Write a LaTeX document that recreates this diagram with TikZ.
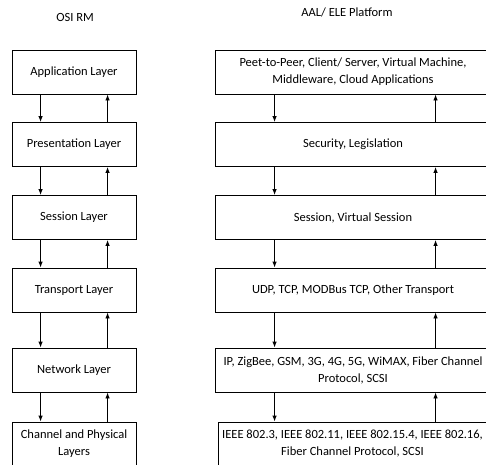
\documentclass[tikz,border=0pt]{standalone}
\usepackage{fontspec}
\setmainfont{Carlito}
\usetikzlibrary{arrows.meta}
\begin{document}
\begin{tikzpicture}[x=1pt,y=-1pt,
  box/.style={draw, line width=0.9pt, minimum height=44pt, align=center,
    font=\fontsize{12.5}{17}\selectfont, inner sep=0pt},
  lbox/.style={box, minimum width=124pt},
  rbox/.style={box, minimum width=276pt},
  arr/.style={-{Latex[length=6pt,width=4.5pt]}, line width=0.9pt},
  ttl/.style={font=\fontsize{12.5}{15}\selectfont}]
\useasboundingbox (0,0) rectangle (486,464);
\clip (0,0) rectangle (486,464);
% titles
\node[ttl] (t1) at (75,17) {OSI RM};
\node[ttl] (t2) at (347,12) {AAL/ ELE Platform};
% left column
\node[lbox] (l1) at (74,72) {Application Layer};
\node[lbox] (l2) at (74,144.5) {Presentation Layer};
\node[lbox] (l3) at (74,217.5) {Session Layer};
\node[lbox] (l4) at (74,290) {Transport Layer};
\node[lbox] (l5) at (74,370) {Network Layer};
\node[lbox] (l6) at (74,444) {Channel and Physical\\Layers};
% right column
\node[rbox] (r1) at (353,72) {Peet-to-Peer, Client/ Server, Virtual Machine,\\Middleware, Cloud Applications};
\node[rbox] (r2) at (353,144.5) {Security, Legislation};
\node[rbox] (r3) at (353,217.5) {Session, Virtual Session};
\node[rbox] (r4) at (353,290) {UDP, TCP, MODBus TCP, Other Transport};
\node[rbox] (r5) at (353,370) {IP, ZigBee, GSM, 3G, 4G, 5G, WiMAX, Fiber Channel\\Protocol, SCSI};
\node[box, minimum width=269pt] (r6) at (352.5,444) {IEEE 802.3, IEEE 802.11, IEEE 802.15.4, IEEE 802.16,\\Fiber Channel Protocol, SCSI};
% left arrows
\foreach \a/\b in {l1/l2,l2/l3,l3/l4,l4/l5,l5/l6}{
  \draw[arr] ([xshift=29pt]\a.south west) -- ([xshift=29pt]\b.north west);
  \draw[arr] ([xshift=96pt]\b.north west) -- ([xshift=96pt]\a.south west);
}
% right arrows
\foreach \a/\b in {r1/r2,r2/r3,r3/r4,r4/r5}{
  \draw[arr] ([xshift=60pt]\a.south west) -- ([xshift=60pt]\b.north west);
  \draw[arr] ([xshift=221pt]\b.north west) -- ([xshift=221pt]\a.south west);
}
\draw[arr] ([xshift=60pt]r5.south west) -- ([xshift=60pt]r5.south west |- r6.north);
\draw[arr] ([xshift=221pt]r5.south west |- r6.north) -- ([xshift=221pt]r5.south west);
\end{tikzpicture}
\end{document}
